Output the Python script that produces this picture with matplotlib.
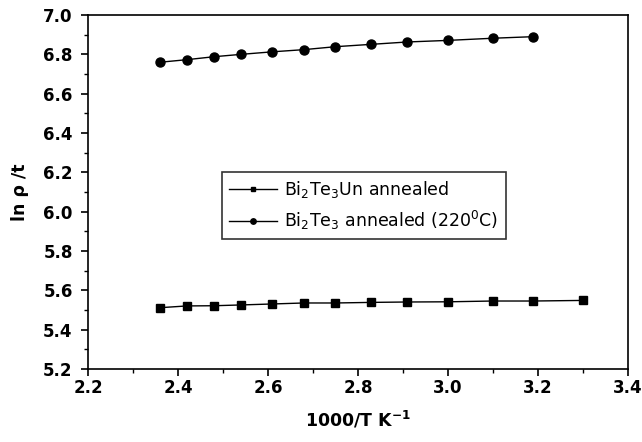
import matplotlib.pyplot as plt
from matplotlib.ticker import MultipleLocator

# values
x_vals = [2.36, 2.42, 2.48, 2.54, 2.61, 2.68, 2.75, 2.83, 2.91, 3.00, 3.10, 3.19, 3.30]
unannealed = [5.512, 5.521, 5.522, 5.526, 5.531, 5.536, 5.536, 5.539, 5.541, 5.542, 5.546, 5.546, 5.549]
annealed_x = x_vals[:12]
annealed = [6.760, 6.773, 6.788, 6.800, 6.813, 6.824, 6.839, 6.851, 6.863, 6.871, 6.882, 6.890]

plt.rcParams['font.family'] = ['DejaVu Sans']

fig = plt.figure(figsize=(6.42, 4.42), dpi=100)
ax = fig.add_axes([0.137, 0.165, 0.841, 0.801])

ax.plot(x_vals, unannealed, color='black', lw=1.0, marker='s', markersize=6,
        label=r'Bi$_2$Te$_3$Un annealed')
ax.plot(annealed_x, annealed, color='black', lw=1.0, marker='o', markersize=6.5,
        label=r'Bi$_2$Te$_3$ annealed (220$^0$C)')

ax.set_xlim(2.2, 3.4)
ax.set_ylim(5.2, 7.0)
ax.xaxis.set_major_locator(MultipleLocator(0.2))
ax.xaxis.set_minor_locator(MultipleLocator(0.1))
ax.yaxis.set_major_locator(MultipleLocator(0.2))
ax.yaxis.set_minor_locator(MultipleLocator(0.1))
ax.tick_params(which='major', direction='out', length=5, width=1.2, labelsize=12)
ax.tick_params(which='minor', direction='out', length=3, width=1.0)
ax.tick_params(axis='x', pad=2)
ax.tick_params(axis='y', pad=6)
for lab in ax.get_xticklabels() + ax.get_yticklabels():
    lab.set_fontweight('bold')
for sp in ax.spines.values():
    sp.set_linewidth(1.2)

ax.set_xlabel(r'1000/T K$^{\mathbf{-1}}$', fontsize=12.5, fontweight='bold', labelpad=9)
ax.set_ylabel('ln ρ /t', fontsize=12.5, fontweight='bold', labelpad=10)

leg = ax.legend(loc='upper left', bbox_to_anchor=(0.248, 0.556), borderaxespad=0,
                prop={'size': 12.5},
                frameon=True, fancybox=False, edgecolor='black', handlelength=2.8,
                handletextpad=0.4, borderpad=0.4, labelspacing=0.5, markerscale=0.6)
leg.get_frame().set_linewidth(1.2)

fig.savefig('out.png', dpi=100)
